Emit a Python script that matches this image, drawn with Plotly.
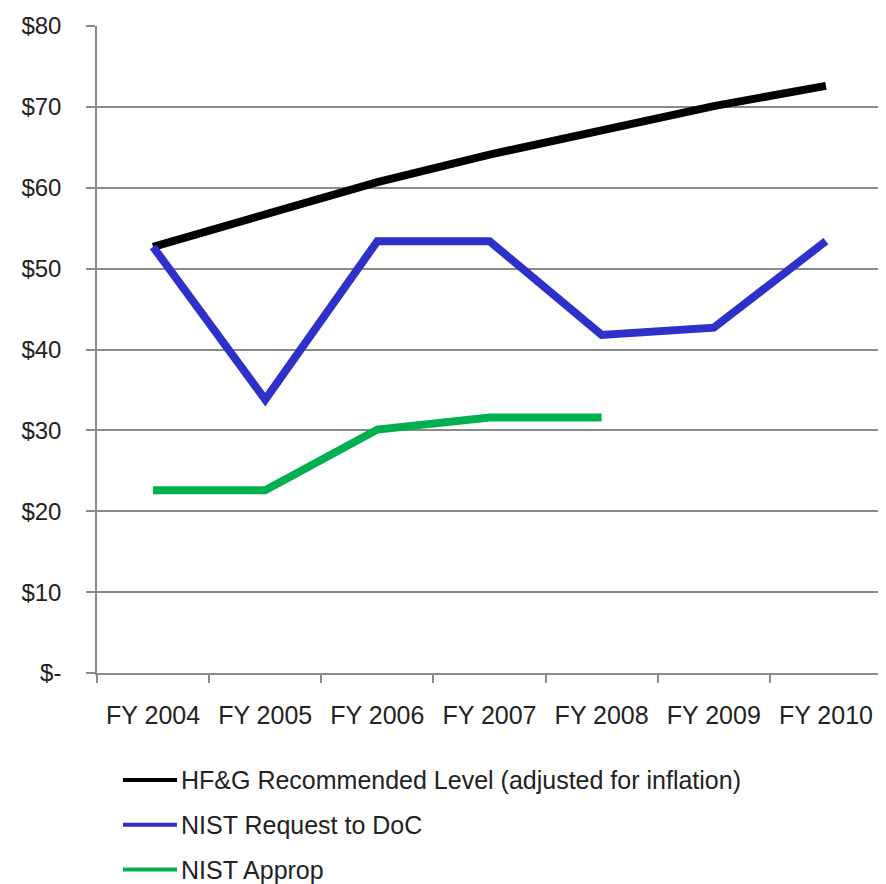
import plotly.graph_objects as go

categories = ["FY 2004", "FY 2005", "FY 2006", "FY 2007", "FY 2008", "FY 2009", "FY 2010"]
hfg_recommended = [52.7, 56.6, 60.7, 64.1, 67.2, 70.1, 72.6]
nist_request = [52.7, 33.8, 53.4, 53.4, 41.8, 42.7, 53.4]
nist_approp = [22.6, 22.6, 30.1, 31.6, 31.6, None, None]

series_names = [
    "HF&G Recommended Level (adjusted for inflation)",
    "NIST Request to DoC",
    "NIST Approp",
]
series_colors = ["#000000", "#2E31C9", "#00B050"]

y_tickvals = [0, 10, 20, 30, 40, 50, 60, 70, 80]
y_ticktext = ["$-", "$10", "$20", "$30", "$40", "$50", "$60", "$70", "$80"]

fig = go.Figure()
for name, vals, col in zip(series_names, [hfg_recommended, nist_request, nist_approp], series_colors):
    fig.add_trace(go.Scatter(
        x=categories, y=vals, mode="lines", name=name,
        line=dict(color=col, width=8), showlegend=False, connectgaps=False,
    ))

# Legend drawn below the plot (sample line + label), in paper coordinates
legend_rows_y = [-0.1654, -0.2346, -0.3038]
for name, col, ly in zip(series_names, series_colors, legend_rows_y):
    fig.add_shape(type="line", xref="paper", yref="paper",
                  x0=0.0331, x1=0.1019, y0=ly, y1=ly,
                  line=dict(color=col, width=4))
    fig.add_annotation(xref="paper", yref="paper", x=0.1045, y=ly,
                       text=name, showarrow=False, xanchor="left", yanchor="middle",
                       font=dict(size=25, color="#222222"))

font_family = "Liberation Sans, Arial, sans-serif"
grid_col = "#8A8A8A"

fig.update_layout(
    width=878, height=876,
    margin=dict(l=89, r=4, t=15, b=211),
    paper_bgcolor="white", plot_bgcolor="white",
    font=dict(family=font_family, size=24, color="#222222"),
    showlegend=False,
    xaxis=dict(
        type="category", categoryorder="array", categoryarray=categories,
        range=[-0.5, 6.5], tickson="boundaries", showgrid=False,
        ticks="outside", ticklen=8, tickcolor=grid_col, tickwidth=1.5,
        showline=True, linecolor=grid_col, linewidth=1.5,
        ticklabelstandoff=19, tickfont=dict(size=25),
    ),
    yaxis=dict(
        range=[0, 80], tickvals=y_tickvals, ticktext=y_ticktext,
        showgrid=True, gridcolor=grid_col, gridwidth=1.5,
        ticks="outside", ticklen=9, tickcolor=grid_col, tickwidth=1.5,
        showline=True, linecolor=grid_col, linewidth=1.5,
        zeroline=False, ticklabelstandoff=20, tickfont=dict(size=24),
    ),
)

fig.write_html("out.html")
